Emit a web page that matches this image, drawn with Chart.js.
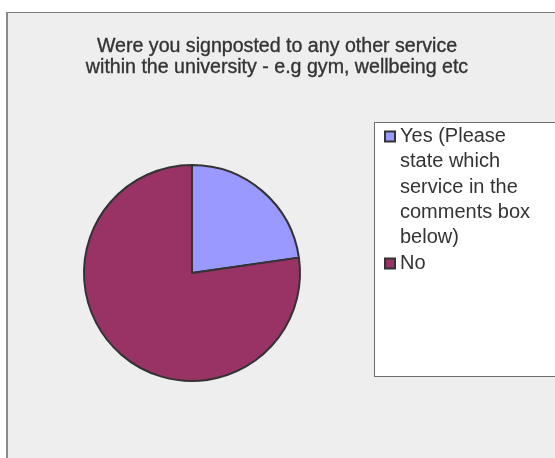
<!DOCTYPE html>
<html>
<head>
<meta charset="utf-8">
<script src="https://cdn.jsdelivr.net/npm/chart.js@4.4.1/dist/chart.umd.min.js"></script>
<style>
  html, body { margin: 0; padding: 0; background: #ffffff; }
  #wrap { position: relative; width: 555px; height: 458px; }
  canvas { display: block; }
</style>
</head>
<body>
<div id="wrap"><canvas id="c" width="555" height="458"></canvas></div>
<script>
// ---- data ----
const titleLines = ["Were you signposted to any other service", "within the university - e.g gym, wellbeing etc"];
const categories = [
  ["Yes (Please", "state which", "service in the", "comments box", "below)"],
  ["No"]
];
const values = [5, 17];
const colors = ["#9999FF", "#993366"];

const FONT = '"Liberation Sans", Arial, sans-serif';

const framePlugin = {
  id: 'frame',
  beforeDraw(chart) {
    const ctx = chart.ctx;
    ctx.save();
    ctx.fillStyle = '#ffffff';
    ctx.fillRect(0, 0, chart.width, chart.height);
    ctx.fillStyle = '#eeeeee';
    ctx.fillRect(6, 12, chart.width - 6, chart.height - 12);
    ctx.fillStyle = '#7a7a7a';
    ctx.fillRect(6, 12, chart.width - 6, 1);
    ctx.fillStyle = '#8a8a8a';
    ctx.fillRect(6, 12, 2, chart.height - 12);
    ctx.restore();
  },
  afterDraw(chart) {
    const ctx = chart.ctx;
    ctx.save();
    // title
    ctx.fillStyle = '#333333';
    ctx.strokeStyle = '#333333';
    ctx.lineWidth = 0.35;
    ctx.font = '19.6px ' + FONT;
    ctx.textAlign = 'center';
    ctx.textBaseline = 'middle';
    titleLines.forEach((t, i) => {
      ctx.fillText(t, 277, 47 + i * 20.5);
      ctx.strokeText(t, 277, 47 + i * 20.5);
    });
    // legend box
    ctx.fillStyle = '#ffffff';
    ctx.fillRect(374, 122, 200, 255);
    ctx.strokeStyle = '#6e6e6e';
    ctx.lineWidth = 1;
    ctx.strokeRect(374.5, 122.5, 200, 254);
    // legend items
    ctx.font = '20px ' + FONT;
    ctx.textAlign = 'left';
    let y = 136.5;
    const lh = 25.3;
    chart.data.labels.forEach((lab, i) => {
      const lines = Array.isArray(lab) ? lab : [lab];
      ctx.fillStyle = '#333333';
      ctx.fillRect(384, y - 6, 12, 12);
      ctx.fillStyle = chart.data.datasets[0].backgroundColor[i];
      ctx.fillRect(386, y - 4, 8, 8);
      ctx.fillStyle = '#333333';
      lines.forEach((l, j) => ctx.fillText(l, 400, y + j * lh));
      y += lines.length * lh + 0.5;
    });
    ctx.restore();
  }
};

new Chart(document.getElementById('c'), {
  type: 'pie',
  data: {
    labels: categories,
    datasets: [{
      data: values,
      backgroundColor: colors,
      borderColor: '#333333',
      borderWidth: 2
    }]
  },
  options: {
    responsive: false,
    animation: false,
    radius: 108,
    layout: { padding: { left: 70, right: 241, top: 150, bottom: 62 } },
    plugins: {
      legend: { display: false },
      title: { display: false },
      tooltip: { enabled: false }
    }
  },
  plugins: [framePlugin]
});
</script>
</body>
</html>
